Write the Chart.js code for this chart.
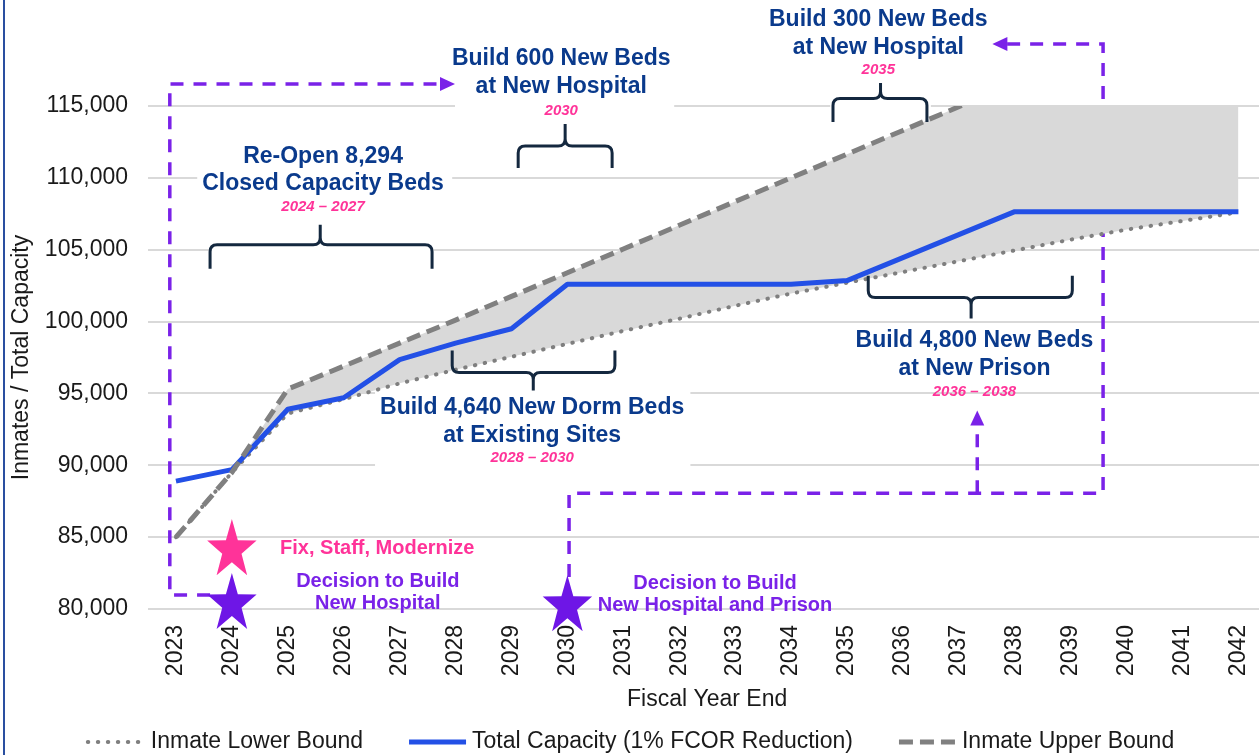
<!DOCTYPE html>
<html>
<head>
<meta charset="utf-8">
<script src="https://cdn.jsdelivr.net/npm/chart.js@4.4.1/dist/chart.umd.min.js"></script>
<style>
  html, body { margin: 0; padding: 0; background: #fff; overflow: hidden; }
  #wrap { position: relative; width: 1259px; height: 755px; overflow: hidden; }
  #edge { position: absolute; left: 3px; top: 0; width: 2px; height: 755px; background: #2a4fa0; }
</style>
</head>
<body>
<div id="wrap">
  <canvas id="capacityChart" width="1274" height="755" style="width:1274px;height:755px"></canvas>
  <div id="edge"></div>
</div>
<script>
// values
var years = ['2023','2024','2025','2026','2027','2028','2029','2030','2031','2032',
             '2033','2034','2035','2036','2037','2038','2039','2040','2041','2042'];
var lowerBound = [85000, 89500, 93600, 94600, 95700, 96650, 97550, 98450, 99350, 100200,
                  101100, 101950, 102700, 103450, 104200, 104950, 105700, 106400, 107000, 107600];
var totalCapacity = [88900, 89700, 93900, 94700, 97350, 98500, 99500, 102600, 102600, 102600,
                     102600, 102600, 102850, 104450, 106050, 107650, 107650, 107650, 107650, 107650];
var upperBound = [85000, 89500, 95300, 96900, 98500, 100100, 101750, 103400, 105050, 106700,
                  108350, 110000, 111650, 113300, 114950, 116600, 118250, 119900, 121550, 123200];
var yTicks = [80000, 85000, 90000, 95000, 100000, 105000, 110000, 115000];

var FONT = 'Arial, "Liberation Sans", sans-serif';
var navy = '#0a3a8c';
var pink = '#ff3399';
var purple = '#7a22e8';
var braceColor = '#14283f';

Chart.defaults.font.family = FONT;

// annotation layout, in (year, value) units so it follows the scales
var notes = [
  {lines: ['Re-Open 8,294', 'Closed Capacity Beds'], x: 2025.63, y: [111500, 109600], sub: '2024 \u2013 2027', subY: 108000},
  {lines: ['Build 600 New Beds', 'at New Hospital'], x: 2029.89, y: [118260, 116320], sub: '2030', subY: 114650},
  {lines: ['Build 300 New Beds', 'at New Hospital'], x: 2035.56, y: [121040, 119030], sub: '2035', subY: 117500},
  {lines: ['Build 4,640 New Dorm Beds', 'at Existing Sites'], x: 2029.37, y: [94030, 92080], sub: '2028 \u2013 2030', subY: 90490},
  {lines: ['Build 4,800 New Beds', 'at New Prison'], x: 2037.28, y: [98680, 96740], sub: '2036 \u2013 2038', subY: 95140}
];
var braces = [
  [2023.61, 2027.58, 2025.58, 105350, 103680, 106740],
  [2027.94, 2030.85, 2029.39, 96460, 97990, 95210],
  [2029.12, 2030.80, 2029.96, 112220, 110690, 113750],
  [2034.75, 2036.43, 2035.60, 115520, 113890, 116600],
  [2035.38, 2039.03, 2037.22, 101670, 103190, 100210]
];
var whiteBoxes = [
  [2023.38, 2027.94, 112570, 107360],
  [2023.60, 2027.60, 105700, 104200],
  [2027.99, 2031.91, 119510, 114100],
  [2026.56, 2032.20, 95210, 89510],
  [2034.70, 2036.50, 115800, 114000]
];
var stars = [[2024, 84100, '#ff3399'], [2024, 80350, '#6e16e6'], [2030, 80200, '#6e16e6']];
var smallNotes = [
  ['Fix, Staff, Modernize', 2026.6, 84240, pink],
  ['Decision to Build', 2026.61, 81940, purple],
  ['New Hospital', 2026.61, 80350, purple],
  ['Decision to Build', 2032.64, 81810, purple],
  ['New Hospital and Prison', 2032.64, 80210, purple]
];
var arrows = [
  {pts: [[2023.61, 80970], [2022.89, 80970], [2022.89, 116530], [2027.74, 116530]], head: [2027.99, 116530, 'right']},
  {pts: [[2030.03, 82220], [2030.03, 88060], [2039.58, 88060], [2039.58, 119310], [2037.83, 119310]], head: [2037.60, 119310, 'left']},
  {pts: [[2037.33, 88060], [2037.33, 92780]], head: [2037.33, 93820, 'up']}
];

function toPx(chart, yr, v) {
  return [chart.scales.x.getPixelForValue(yr - 2023), chart.scales.y.getPixelForValue(v)];
}

function drawBrace(ctx, chart, b) {
  var a = toPx(chart, b[0], b[3]);
  var x1 = a[0], yH = a[1];
  var x2 = toPx(chart, b[1], 0)[0];
  var xc = toPx(chart, b[2], 0)[0];
  var yEnd = chart.scales.y.getPixelForValue(b[4]);
  var yTip = chart.scales.y.getPixelForValue(b[5]);
  var r = 7;
  var se = Math.sign(yEnd - yH), st = Math.sign(yTip - yH);
  ctx.beginPath();
  ctx.moveTo(x1, yEnd);
  ctx.lineTo(x1, yH + se * r);
  ctx.quadraticCurveTo(x1, yH, x1 + r, yH);
  ctx.lineTo(xc - r, yH);
  ctx.quadraticCurveTo(xc, yH, xc, yH + st * r);
  ctx.lineTo(xc, yTip);
  ctx.moveTo(xc, yH + st * r);
  ctx.quadraticCurveTo(xc, yH, xc + r, yH);
  ctx.lineTo(x2 - r, yH);
  ctx.quadraticCurveTo(x2, yH, x2, yH + se * r);
  ctx.lineTo(x2, yEnd);
  ctx.stroke();
}

function drawStar(ctx, cx, cy, rx, ry, color) {
  ctx.beginPath();
  for (var i = 0; i < 10; i++) {
    var k = i % 2 ? 0.39 : 1;
    var ang = -Math.PI / 2 + i * Math.PI / 5;
    ctx.lineTo(cx + Math.cos(ang) * k * rx, cy + Math.sin(ang) * k * ry);
  }
  ctx.closePath();
  ctx.fillStyle = color;
  ctx.fill();
}

function arrowHead(ctx, x, y, dir) {
  var len = 15, hw = 7;
  ctx.beginPath();
  if (dir === 'right') { ctx.moveTo(x, y); ctx.lineTo(x - len, y - hw); ctx.lineTo(x - len, y + hw); }
  if (dir === 'left') { ctx.moveTo(x, y); ctx.lineTo(x + len, y - hw); ctx.lineTo(x + len, y + hw); }
  if (dir === 'up') { ctx.moveTo(x, y); ctx.lineTo(x - hw, y + len); ctx.lineTo(x + hw, y + len); }
  ctx.closePath();
  ctx.fill();
}

var decor = {
  id: 'decor',
  beforeDatasetsDraw: function(chart) {
    var ctx = chart.ctx;
    ctx.save();
    ctx.fillStyle = '#fff';
    whiteBoxes.forEach(function(b) {
      var p1 = toPx(chart, b[0], b[2]), p2 = toPx(chart, b[1], b[3]);
      ctx.fillRect(p1[0], p1[1], p2[0] - p1[0], p2[1] - p1[1]);
    });
    // purple dashed arrows sit under the data
    ctx.strokeStyle = purple;
    ctx.fillStyle = purple;
    ctx.lineWidth = 3.5;
    arrows.forEach(function(a) {
      ctx.setLineDash([13, 10]);
      ctx.beginPath();
      a.pts.forEach(function(p, i) {
        var q = toPx(chart, p[0], p[1]);
        if (i === 0) ctx.moveTo(q[0], q[1]); else ctx.lineTo(q[0], q[1]);
      });
      ctx.stroke();
      ctx.setLineDash([]);
      var h = toPx(chart, a.head[0], a.head[1]);
      arrowHead(ctx, h[0], h[1], a.head[2]);
    });
    ctx.restore();
  },
  afterDatasetsDraw: function(chart) {
    var ctx = chart.ctx;
    ctx.save();
    ctx.strokeStyle = braceColor;
    ctx.lineWidth = 3;
    ctx.lineJoin = 'round';
    braces.forEach(function(b) { drawBrace(ctx, chart, b); });

    stars.forEach(function(s) {
      var p = toPx(chart, s[0], s[1]);
      drawStar(ctx, p[0], p[1], 26, 31, s[2]);
    });

    ctx.textAlign = 'center';
    ctx.textBaseline = 'middle';
    notes.forEach(function(n) {
      ctx.font = 'bold 23px ' + FONT;
      ctx.fillStyle = navy;
      n.lines.forEach(function(t, i) {
        var p = toPx(chart, n.x, n.y[i]);
        ctx.fillText(t, p[0], p[1]);
      });
      ctx.font = 'italic bold 15px ' + FONT;
      ctx.fillStyle = pink;
      var q = toPx(chart, n.x, n.subY);
      ctx.fillText(n.sub, q[0], q[1]);
    });
    ctx.font = 'bold 20px ' + FONT;
    smallNotes.forEach(function(s) {
      var p = toPx(chart, s[1], s[2]);
      ctx.fillStyle = s[3];
      ctx.fillText(s[0], p[0], p[1]);
    });
    ctx.restore();
  },
  afterDraw: function(chart) {
    // legend drawn by hand so the spacing can follow the reference
    var ctx = chart.ctx;
    var sw = 57, g1 = 6, g2 = 46, cy = 742;
    ctx.save();
    ctx.font = '23px ' + FONT;
    var ds = chart.data.datasets;
    var total = 0;
    ds.forEach(function(d, i) { total += sw + g1 + ctx.measureText(d.label).width + (i ? g2 : 0); });
    var x = 631 - total / 2;
    ds.forEach(function(d) {
      ctx.save();
      ctx.strokeStyle = d.borderColor;
      ctx.lineWidth = d.borderWidth;
      ctx.setLineDash(d.borderDash || []);
      ctx.lineCap = d.borderCapStyle || 'butt';
      ctx.beginPath();
      ctx.moveTo(x, cy);
      ctx.lineTo(x + sw, cy);
      ctx.stroke();
      ctx.restore();
      ctx.fillStyle = '#1a1a1a';
      ctx.textBaseline = 'middle';
      ctx.textAlign = 'left';
      ctx.fillText(d.label, x + sw + g1, cy);
      x += sw + g1 + ctx.measureText(d.label).width + g2;
    });
    ctx.restore();
  }
};

var ctx = document.getElementById('capacityChart');
var myChart = new Chart(ctx, {
  type: 'line',
  data: {
    labels: years,
    datasets: [
      {
        label: 'Inmate Lower Bound',
        data: lowerBound,
        borderColor: '#7f7f7f',
        borderWidth: 4,
        borderDash: [0.5, 9.5],
        borderCapStyle: 'round',
        backgroundColor: '#d9d9d9',
        fill: '+2',
        pointRadius: 0,
        order: 3
      },
      {
        label: 'Total Capacity (1% FCOR Reduction)',
        data: totalCapacity,
        borderColor: '#2350e6',
        borderWidth: 5,
        borderJoinStyle: 'round',
        fill: false,
        pointRadius: 0,
        order: 2
      },
      {
        label: 'Inmate Upper Bound',
        data: upperBound,
        borderColor: '#808080',
        borderWidth: 5,
        borderDash: [14, 7],
        fill: false,
        pointRadius: 0,
        order: 1
      }
    ]
  },
  options: {
    responsive: false,
    animation: false,
    layout: { padding: { top: 106, bottom: 41, left: 0, right: 0 } },
    plugins: {
      legend: { display: false },
      tooltip: { enabled: false }
    },
    scales: {
      x: {
        offset: true,
        grid: { display: false },
        border: { display: false },
        ticks: { minRotation: 90, maxRotation: 90, autoSkip: false, padding: 8, color: '#1a1a1a', font: { size: 23 } },
        title: { display: true, text: 'Fiscal Year End', color: '#1a1a1a', font: { size: 23 }, padding: { top: 0, bottom: 1 } },
        afterFit: function(s) { s.height = 105; }
      },
      y: {
        min: 80000,
        max: 115000,
        afterBuildTicks: function(s) { s.ticks = yTicks.map(function(v) { return { value: v }; }); },
        grid: { color: '#d9d9d9', lineWidth: 2, drawTicks: false },
        border: { display: false },
        ticks: { padding: 20, color: '#1a1a1a', font: { size: 23 } },
        title: { display: true, text: 'Inmates / Total Capacity', color: '#1a1a1a', font: { size: 23 }, padding: { top: 8, bottom: 0 } },
        afterFit: function(s) { s.width = 148; }
      }
    }
  },
  plugins: [decor]
});
</script>
</body>
</html>
